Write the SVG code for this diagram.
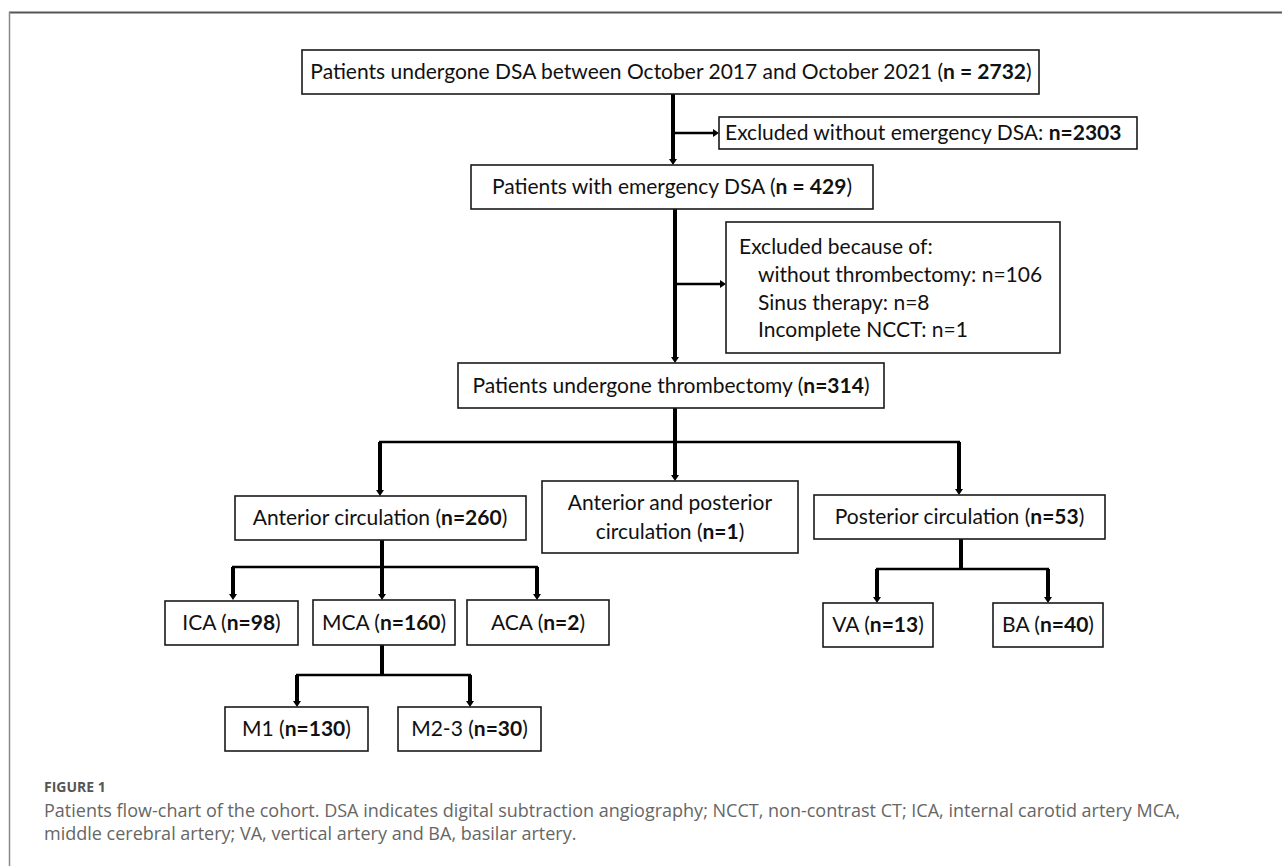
<svg xmlns="http://www.w3.org/2000/svg" width="1282" height="866" viewBox="0 0 1282 866">
<style>
.box{fill:#fff;stroke:#1a1a1a;stroke-width:1.6}
.t{font-family:Lato,"Liberation Sans",sans-serif;font-size:21px;fill:#111}
.c{text-anchor:middle}
.b{font-weight:bold}
.v{fill:none;stroke:#000;stroke-width:4}
.h{fill:none;stroke:#000;stroke-width:2.5}
.a{marker-end:url(#arr)}
.cap{font-family:"Open Sans","Noto Sans",sans-serif;fill:#666;font-size:18px}
</style>
<defs>
<marker id="arr" viewBox="0 0 6 8" refX="3" refY="4" markerWidth="6" markerHeight="8" markerUnits="userSpaceOnUse" orient="auto">
<path d="M0,0 L6,4 L0,8 z" fill="#000"/>
</marker>
</defs>
<rect width="1282" height="866" fill="#fff"/>
<g id="frame">
<line x1="9" y1="12.5" x2="1282" y2="12.5" stroke="#555" stroke-width="2"/>
<line x1="9.5" y1="12" x2="9.5" y2="866" stroke="#888" stroke-width="1.5"/>
</g>
<g id="connectors">
<path class="v a" d="M673,94 V162"/>
<path class="h a" d="M673,133 H716"/>
<path class="v a" d="M675,209 V360"/>
<path class="h a" d="M675,284 H723"/>
<path class="v" d="M675,408 V442"/>
<path class="h" d="M379,442 H960"/>
<path class="v a" d="M380,442 V493"/>
<path class="v a" d="M675,442 V478"/>
<path class="v a" d="M959,442 V492"/>
<path class="v" d="M382,540 V567"/>
<path class="h" d="M232,567 H538"/>
<path class="v a" d="M233,567 V597"/>
<path class="v a" d="M382,567 V597"/>
<path class="v a" d="M537,567 V597"/>
<path class="v" d="M382,645 V675"/>
<path class="h" d="M296,675 H471"/>
<path class="v a" d="M297,675 V704"/>
<path class="v a" d="M470,675 V704"/>
<path class="v" d="M961,539 V569"/>
<path class="h" d="M876,569 H1049"/>
<path class="v a" d="M877,569 V600"/>
<path class="v a" d="M1048,569 V600"/>
</g>
<g id="n-all">
<rect class="box" x="302" y="50" width="737" height="44"/>
<text class="t c" x="671" y="79">Patients undergone DSA between October 2017 and October 2021 (<tspan class="b">n = 2732</tspan>)</text>
</g>
<g id="n-excl1">
<rect class="box" x="719" y="117" width="418" height="32"/>
<text class="t" x="725" y="140" font-size="20.5">Excluded without emergency DSA: <tspan class="b">n=2303</tspan></text>
</g>
<g id="n-emerg">
<rect class="box" x="471" y="165" width="402" height="44"/>
<text class="t c" x="672" y="194">Patients with emergency DSA (<tspan class="b">n = 429</tspan>)</text>
</g>
<g id="n-excl2">
<rect class="box" x="726" y="222" width="334" height="131"/>
<text class="t" x="739" y="254">Excluded because of:</text>
<text class="t" x="758" y="282">without thrombectomy: n=106</text>
<text class="t" x="758" y="310">Sinus therapy: n=8</text>
<text class="t" x="758" y="337">Incomplete NCCT: n=1</text>
</g>
<g id="n-thromb">
<rect class="box" x="458" y="363" width="426" height="45"/>
<text class="t c" x="671" y="393">Patients undergone thrombectomy (<tspan class="b">n=314</tspan>)</text>
</g>
<g id="n-ant">
<rect class="box" x="235" y="496" width="291" height="44"/>
<text class="t c" x="380" y="525">Anterior circulation (<tspan class="b">n=260</tspan>)</text>
</g>
<g id="n-antpost">
<rect class="box" x="542" y="481" width="256" height="72"/>
<text class="t c" x="670" y="510">Anterior and posterior</text>
<text class="t c" x="670" y="539">circulation (<tspan class="b">n=1</tspan>)</text>
</g>
<g id="n-post">
<rect class="box" x="814" y="495" width="291" height="44"/>
<text class="t c" x="959.5" y="524">Posterior circulation (<tspan class="b">n=53</tspan>)</text>
</g>
<g id="n-ica">
<rect class="box" x="165" y="601" width="133" height="44"/>
<text class="t c" x="231.5" y="630">ICA (<tspan class="b">n=98</tspan>)</text>
</g>
<g id="n-mca">
<rect class="box" x="313" y="600" width="142" height="45"/>
<text class="t c" x="384" y="630">MCA (<tspan class="b">n=160</tspan>)</text>
</g>
<g id="n-aca">
<rect class="box" x="467" y="600" width="142" height="45"/>
<text class="t c" x="538" y="630">ACA (<tspan class="b">n=2</tspan>)</text>
</g>
<g id="n-m1">
<rect class="box" x="225" y="707" width="143" height="44"/>
<text class="t c" x="296.5" y="736">M1 (<tspan class="b">n=130</tspan>)</text>
</g>
<g id="n-m23">
<rect class="box" x="398" y="707" width="143" height="44"/>
<text class="t c" x="469.5" y="736">M2-3 (<tspan class="b">n=30</tspan>)</text>
</g>
<g id="n-va">
<rect class="box" x="823" y="603" width="110" height="44"/>
<text class="t c" x="878" y="632">VA (<tspan class="b">n=13</tspan>)</text>
</g>
<g id="n-ba">
<rect class="box" x="993" y="603" width="110" height="44"/>
<text class="t c" x="1048" y="632">BA (<tspan class="b">n=40</tspan>)</text>
</g>
<g id="caption">
<text x="44" y="792" font-family="'Open Sans','Noto Sans',sans-serif" font-size="14" font-weight="bold" fill="#555">FIGURE 1</text>
<text class="cap" x="44" y="817">Patients flow-chart of the cohort. DSA indicates digital subtraction angiography; NCCT, non-contrast CT; ICA, internal carotid artery MCA,</text>
<text class="cap" x="44" y="840">middle cerebral artery; VA, vertical artery and BA, basilar artery.</text>
</g>
</svg>
